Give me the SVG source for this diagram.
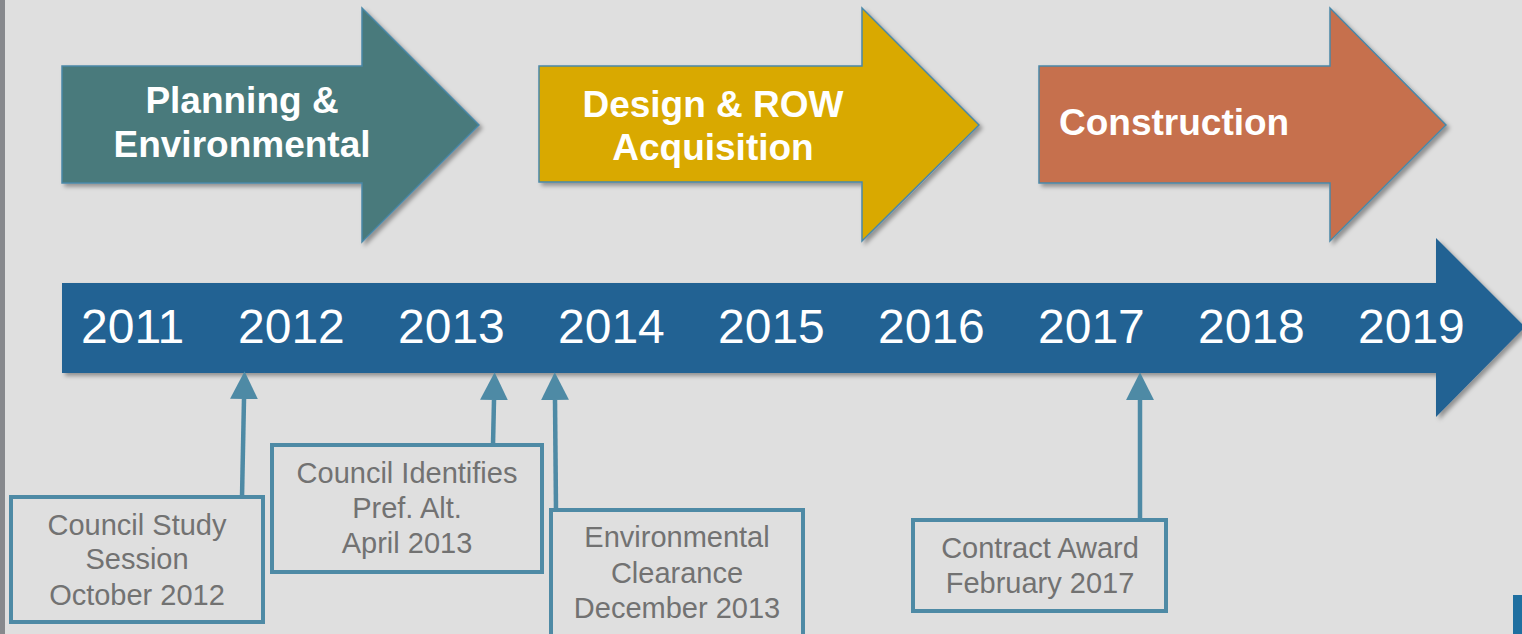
<svg xmlns="http://www.w3.org/2000/svg" width="1522" height="634" viewBox="0 0 1522 634">
<defs>
<style>
.phase{stroke:#4a88a8;stroke-width:1.5;filter:url(#sh)}
.ptxt{font-family:"Liberation Sans",Arial,sans-serif;font-weight:bold;font-size:37px;fill:#ffffff}
.year{font-family:"Liberation Sans",Arial,sans-serif;font-size:48px;fill:#ffffff}
.box{fill:none;stroke:#4e8aa5;stroke-width:4}
.btxt{font-family:"Liberation Sans",Arial,sans-serif;font-size:29px;fill:#727272;text-anchor:middle}
.conn{stroke:#4e8aa5;stroke-width:4.5;fill:none;marker-end:url(#ah)}
</style>
<filter id="sh" x="-10%" y="-10%" width="130%" height="130%">
<feDropShadow dx="3" dy="3" stdDeviation="2" flood-color="#000" flood-opacity="0.35"/>
</filter>
<marker id="ah" markerUnits="userSpaceOnUse" markerWidth="30" markerHeight="30" viewBox="0 -14 28 28" refX="0" refY="0" orient="auto">
<path d="M0,-13 L26,0 L0,13 Z" fill="#4e8aa5"/>
</marker>
</defs>
<rect x="0" y="0" width="1522" height="634" fill="#dfdfdf"/>
<rect x="0" y="0" width="5" height="634" fill="#87898d"/>

<g id="phase-planning">
<polygon class="phase" fill="#4a7a7b" points="62,66 362,66 362,8 479,125 362,242 362,183 62,183"/>
<text class="ptxt" x="242" y="113" text-anchor="middle">Planning &amp;</text>
<text class="ptxt" x="242" y="157" text-anchor="middle">Environmental</text>
</g>
<g id="phase-design">
<polygon class="phase" fill="#d9a900" points="539,66 862,66 862,8 979,125 862,241 862,182 539,182"/>
<text class="ptxt" x="713" y="117" text-anchor="middle">Design &amp; ROW</text>
<text class="ptxt" x="713" y="160" text-anchor="middle">Acquisition</text>
</g>
<g id="phase-construction">
<polygon class="phase" fill="#c66f4e" points="1039,66 1330,66 1330,8 1446,125 1330,241 1330,183 1039,183"/>
<text class="ptxt" x="1059" y="135">Construction</text>
</g>

<g id="timeline">
<polygon fill="#246293" filter="url(#sh)" points="62,283 1436,283 1436,238 1525,327 1436,417 1436,373 62,373"/>
<text class="year" x="81" y="343">2011</text>
<text class="year" x="238" y="343">2012</text>
<text class="year" x="398" y="343">2013</text>
<text class="year" x="558" y="343">2014</text>
<text class="year" x="718" y="343">2015</text>
<text class="year" x="878" y="343">2016</text>
<text class="year" x="1038" y="343">2017</text>
<text class="year" x="1198" y="343">2018</text>
<text class="year" x="1358" y="343">2019</text>
</g>

<g id="connectors">
<line class="conn" x1="242" y1="497" x2="244" y2="399"/>
<line class="conn" x1="493" y1="445" x2="494" y2="400"/>
<line class="conn" x1="556" y1="510" x2="555" y2="400"/>
<line class="conn" x1="1140" y1="520" x2="1140" y2="400"/>
</g>

<g id="m-study">
<rect class="box" x="11" y="497" width="252" height="125"/>
<text class="btxt" x="137" y="535">Council Study</text>
<text class="btxt" x="137" y="569">Session</text>
<text class="btxt" x="137" y="605">October 2012</text>
</g>
<g id="m-pref">
<rect class="box" x="272" y="445" width="270" height="127"/>
<text class="btxt" x="407" y="483">Council Identifies</text>
<text class="btxt" x="407" y="518">Pref. Alt.</text>
<text class="btxt" x="407" y="553">April 2013</text>
</g>
<g id="m-env">
<rect class="box" x="551" y="510" width="252" height="140"/>
<text class="btxt" x="677" y="547">Environmental</text>
<text class="btxt" x="677" y="583">Clearance</text>
<text class="btxt" x="677" y="618">December 2013</text>
</g>
<g id="m-contract">
<rect class="box" x="913" y="520" width="253" height="91"/>
<text class="btxt" x="1040" y="558">Contract Award</text>
<text class="btxt" x="1040" y="593">February 2017</text>
</g>
<rect x="1513" y="595" width="9" height="39" fill="#1f6fa0"/>
</svg>
